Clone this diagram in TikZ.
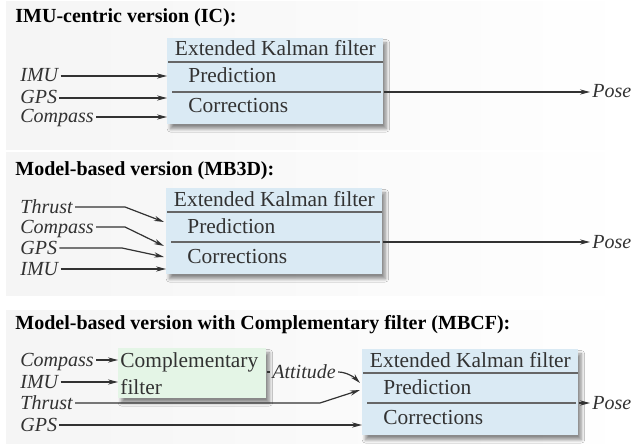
\documentclass[tikz,border=0pt]{standalone}
\usepackage{fontspec}
\setmainfont{Liberation Serif}
\usetikzlibrary{arrows.meta,shadows.blur,calc}

\definecolor{ekfblue}{RGB}{218,234,244}
\definecolor{cfgreen}{RGB}{228,245,230}
\definecolor{inkgray}{RGB}{50,50,50}

\tikzset{
  sig/.style={font=\itshape, inner sep=1pt, text height=8pt, text depth=2pt, text=inkgray, anchor=west},
  heading/.style={font=\bfseries, inner sep=0pt, anchor=west},
  panel/.style={left color=black!4, right color=white},
  filterbox/.style={fill=ekfblue, minimum width=108pt, minimum height=43pt, inner sep=0pt, anchor=north west,
    blur shadow={shadow xshift=1.5pt, shadow yshift=-2.2pt, shadow blur radius=1.6pt, shadow opacity=45,
      shadow blur steps=8}},
  boxtext/.style={inner sep=0pt, text height=8pt, text depth=2pt, text=inkgray},
  wire/.style={draw=inkgray, line width=0.6pt},
  feed/.style={wire, -{Stealth[length=5pt,width=2.6pt]}},
  rule/.style={draw=black!60, line width=0.7pt},
}

\begin{document}
\begin{tikzpicture}[x=0.5pt, y=-0.5pt, font=\fontsize{10.7}{12.8}\selectfont]
\useasboundingbox (0,0) rectangle (635,443);
\shade[panel] (6,2) rectangle (635,150);
\shade[panel] (6,153) rectangle (635,295);
\shade[panel] (6,310) rectangle (635,443);

% IMU-centric version
\node[heading] (titleA) at (15,18) {IMU-centric version (IC):};
\node[filterbox] (ekfA) at (167,38) {};
\node[boxtext] (ekfAhead) at ($(ekfA.north)+(0,12)$) {Extended Kalman filter};
\draw[rule] ($(ekfA.north west)+(1,24)$) -- ($(ekfA.north east)+(-1,24)$);
\node[boxtext, anchor=west] (ekfApred) at ($(ekfA.north west)+(21,39)$) {Prediction};
\draw[rule] ($(ekfA.north west)+(5,54)$) -- ($(ekfA.north east)+(-3,54)$);
\node[boxtext, anchor=west] (ekfAcorr) at ($(ekfA.north west)+(21,69)$) {Corrections};
\node[sig] (imuA) at (18,76) {IMU};
\node[sig] (gpsA) at (18,98) {GPS};
\node[sig] (compassA) at (18,117) {Compass};
\draw[feed] (imuA) -- (imuA -| ekfA.west);
\draw[feed] (gpsA) -- (gpsA -| ekfA.west);
\draw[feed] (compassA) -- (compassA -| ekfA.west);
\node[sig] (poseA) at (590,92) {Pose};
\draw[feed] (poseA -| ekfA.east) -- (poseA);

% model-based version
\node[heading] (titleB) at (15,171) {Model-based version (MB3D):};
\node[filterbox] (ekfB) at (166,188) {};
\node[boxtext] (ekfBhead) at ($(ekfB.north)+(0,12)$) {Extended Kalman filter};
\draw[rule] ($(ekfB.north west)+(1,24)$) -- ($(ekfB.north east)+(-1,24)$);
\node[boxtext, anchor=west] (ekfBpred) at ($(ekfB.north west)+(21,39)$) {Prediction};
\draw[rule] ($(ekfB.north west)+(5,54)$) -- ($(ekfB.north east)+(-3,54)$);
\node[boxtext, anchor=west] (ekfBcorr) at ($(ekfB.north west)+(21,69)$) {Corrections};
\node[sig] (thrustB) at (18,207) {Thrust};
\node[sig] (compassB) at (18,227) {Compass};
\node[sig] (gpsB) at (18,248) {GPS};
\node[sig] (imuB) at (18,269) {IMU};
\coordinate (thrustBbend) at (125,207);
\coordinate (thrustBin) at (164,222);
\coordinate (compassBbend) at (125,227);
\coordinate (compassBin) at (164,246);
\coordinate (gpsBbend) at (122,248);
\coordinate (gpsBin) at (164,257);
\draw[feed] (thrustB) -- (thrustBbend) -- (thrustBin);
\draw[feed] (compassB) -- (compassBbend) -- (compassBin);
\draw[feed] (gpsB) -- (gpsBbend) -- (gpsBin);
\draw[feed] (imuB) -- (imuB -| ekfB.west);
\node[sig] (poseB) at (590,242) {Pose};
\draw[feed] (poseB -| ekfB.east) -- (poseB);

% model-based version with complementary filter
\node[heading] (titleC) at (15,325) {Model-based version with Complementary filter (MBCF):};
\node[filterbox, fill=cfgreen, minimum width=74pt, minimum height=25pt, text width=72pt, inner xsep=1pt,
  align=left, font=\fontsize{10.7}{13.5}\selectfont, text=inkgray] (cfC) at (118,348) {Complementary\\filter};
\node[filterbox] (ekfC) at (362,349) {};
\node[boxtext] (ekfChead) at ($(ekfC.north)+(0,12)$) {Extended Kalman filter};
\draw[rule] ($(ekfC.north west)+(1,24)$) -- ($(ekfC.north east)+(-1,24)$);
\node[boxtext, anchor=west] (ekfCpred) at ($(ekfC.north west)+(21,39)$) {Prediction};
\draw[rule] ($(ekfC.north west)+(5,54)$) -- ($(ekfC.north east)+(-3,54)$);
\node[boxtext, anchor=west] (ekfCcorr) at ($(ekfC.north west)+(21,69)$) {Corrections};
\node[sig] (compassC) at (18,360) {Compass};
\node[sig] (imuC) at (18,382) {IMU};
\node[sig] (thrustC) at (18,403) {Thrust};
\node[sig] (gpsC) at (18,425) {GPS};
\draw[feed] (compassC) -- (compassC -| cfC.west);
\draw[feed] (imuC) -- (imuC -| cfC.west);
\node[sig] (attC) at (270,372) {Attitude};
\draw[wire] (attC -| cfC.east) -- (attC);
\coordinate (attCin) at (360,383);
\draw[feed] (attC.east) .. controls +(8,0) and +(-6,-6) .. (attCin);
\coordinate (thrustCbend) at (320,403);
\coordinate (thrustCin) at (360,390);
\draw[feed] (thrustC) -- (thrustCbend) -- (thrustCin);
\draw[feed] (gpsC) -- (gpsC -| ekfC.west);
\node[sig] (poseC) at (590,403) {Pose};
\draw[feed] (poseC -| ekfC.east) -- (poseC);
\end{tikzpicture}
\end{document}
